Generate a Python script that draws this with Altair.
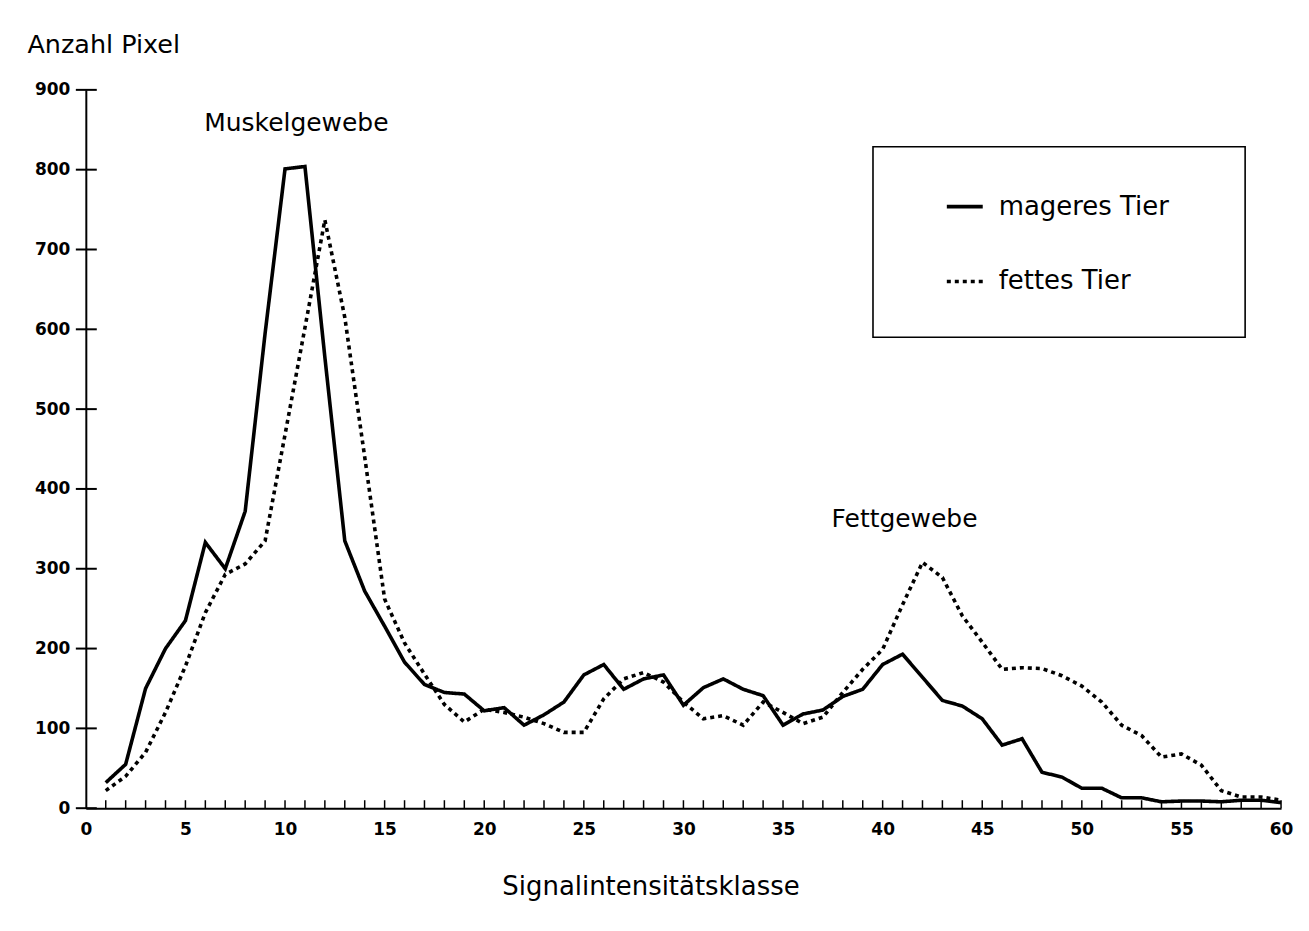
import altair as alt
import pandas as pd

# ---- data ----
klassen = list(range(1, 61))
mager = [32, 55, 150, 200, 235, 333, 300, 372, 595, 801,
         804, 565, 335, 272, 228, 183, 155, 145, 143, 122,
         126, 104, 117, 133, 167, 180, 149, 162, 167, 129,
         151, 162, 149, 141, 104, 118, 123, 140, 149, 180,
         193, 164, 135, 128, 112, 79, 87, 45, 39, 25,
         25, 13, 13, 8, 9, 9, 8, 10, 10, 7]
fett = [22, 40, 70, 120, 178, 245, 293, 306, 335, 468,
        602, 737, 615, 440, 262, 207, 168, 130, 108, 124,
        120, 114, 106, 95, 95, 137, 162, 170, 158, 133,
        112, 116, 104, 133, 120, 106, 114, 145, 174, 199,
        255, 308, 289, 241, 208, 174, 176, 175, 166, 153,
        133, 104, 91, 64, 68, 54, 22, 14, 14, 10]
serien = ["mageres Tier", "fettes Tier"]

x_ticks = list(range(1, 61))
x_labels = list(range(0, 61, 5))
y_ticks = list(range(0, 901, 100))

anno_text = ["Muskelgewebe", "Fettgewebe"]
anno_x = [10.57, 41.1]
anno_y = [858, 362]

FONT = "DejaVu Sans"
W, H = 1198, 720

df = pd.DataFrame({
    "Klasse": klassen * 2,
    "Anzahl": mager + fett,
    "Serie": [serien[0]] * len(klassen) + [serien[1]] * len(klassen),
})

xs = alt.Scale(domain=[0, 60], nice=False, zero=False)
ys = alt.Scale(domain=[0, 900], nice=False)

lines = alt.Chart(df).mark_line(color="black", strokeWidth=3.6, strokeCap="butt").encode(
    x=alt.X("Klasse:Q", scale=xs,
            axis=alt.Axis(values=x_labels, ticks=False, grid=False, labelPadding=13,
                          labelFlush=False,
                          labelFont=FONT, labelFontSize=17, labelFontWeight="bold",
                          labelColor="black", domainColor="black", domainWidth=2,
                          title="Signalintensitätsklasse", titleFont=FONT,
                          titleFontSize=26, titleFontWeight="normal", titleColor="black",
                          titleX=566, titleY=87, titleAnchor="middle",
                          titleBaseline="alphabetic")),
    y=alt.Y("Anzahl:Q", scale=ys,
            axis=alt.Axis(values=y_ticks, ticks=False, grid=False, labelPadding=16,
                          labelFlush=False,
                          labelFont=FONT, labelFontSize=17, labelFontWeight="bold",
                          labelColor="black", domainColor="black", domainWidth=2,
                          title="Anzahl Pixel", titleFont=FONT, titleFontSize=25.5,
                          titleFontWeight="normal", titleColor="black", titleAngle=0,
                          titleAlign="left", titleBaseline="alphabetic",
                          titleX=-59, titleY=-37)),
    strokeDash=alt.StrokeDash(
        "Serie:N",
        scale=alt.Scale(domain=serien, range=[[1, 0], [4, 4]]),
        legend=alt.Legend(orient="none", legendX=861, legendY=97, title=None,
                          symbolType="stroke", symbolSize=1296,
                          symbolStrokeWidth=3.6, symbolStrokeColor="black",
                          labelFont=FONT, labelFontSize=26, labelColor="black",
                          labelOffset=14, rowPadding=42, padding=0,
                          labelLimit=400),
    ),
    detail="Serie:N",
)

legend_frame = alt.Chart(pd.DataFrame({"a": [0]})).mark_rect(
    fill="white", stroke="black", strokeWidth=1.6
).encode(x=alt.value(789), x2=alt.value(1162), y=alt.value(57), y2=alt.value(248))

xtick_rules = alt.Chart(pd.DataFrame({"t": x_ticks})).mark_rule(
    color="black", strokeWidth=1.5
).encode(x=alt.X("t:Q", scale=xs), y=alt.value(H), y2=alt.value(H - 8))

ytick_rules = alt.Chart(pd.DataFrame({"t": y_ticks})).mark_rule(
    color="black", strokeWidth=2
).encode(y=alt.Y("t:Q", scale=ys), x=alt.value(-10), x2=alt.value(11))

annos = alt.Chart(pd.DataFrame({"txt": anno_text, "x": anno_x, "y": anno_y})).mark_text(
    font=FONT, fontSize=25, color="black", align="center", baseline="middle"
).encode(x=alt.X("x:Q", scale=xs), y=alt.Y("y:Q", scale=ys), text="txt:N")

chart = alt.layer(legend_frame, xtick_rules, ytick_rules, lines, annos).properties(
    width=W, height=H,
    autosize=alt.AutoSizeParams(type="none"),
    padding={"left": 78, "top": 81, "right": 20, "bottom": 110},
    background="white",
).configure_view(stroke=None)

chart.save("out.html", embed_options={"renderer": "svg", "actions": False})
